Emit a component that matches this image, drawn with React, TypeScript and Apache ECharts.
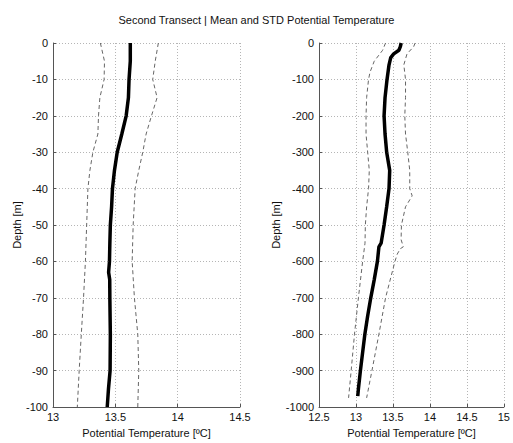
import React, { useEffect, useRef } from "react";
import * as echarts from "echarts";

// Left panel (upper 100 m)
const leftMeanDepth = [0, -5, -10, -15, -20, -25, -30, -35, -40, -45, -50, -55, -60, -63, -65, -70, -80, -90, -95, -100];
const leftMeanTemp = [13.62, 13.62, 13.61, 13.605, 13.587, 13.552, 13.515, 13.493, 13.477, 13.47, 13.46, 13.456, 13.453, 13.446, 13.455, 13.456, 13.46, 13.458, 13.445, 13.435];
const leftLowDepth = [0, -5, -10, -15, -20, -25, -30, -35, -40, -50, -60, -70, -80, -90, -100];
const leftLowTemp = [13.38, 13.413, 13.41, 13.376, 13.365, 13.36, 13.32, 13.296, 13.28, 13.27, 13.26, 13.245, 13.227, 13.21, 13.195];
const leftHighDepth = [0, -5, -10, -15, -20, -25, -30, -35, -40, -50, -60, -70, -80, -90, -100];
const leftHighTemp = [13.845, 13.82, 13.8, 13.835, 13.79, 13.747, 13.72, 13.688, 13.659, 13.643, 13.635, 13.653, 13.68, 13.688, 13.68];

// Right panel (full 1000 m)
const rightMeanDepth = [0, -10, -20, -30, -40, -60, -100, -150, -200, -250, -300, -350, -400, -450, -500, -550, -560, -600, -650, -700, -750, -800, -850, -900, -950, -970];
const rightMeanTemp = [13.611, 13.6, 13.58, 13.51, 13.47, 13.447, 13.42, 13.393, 13.38, 13.393, 13.415, 13.456, 13.447, 13.415, 13.38, 13.34, 13.31, 13.29, 13.247, 13.2, 13.158, 13.12, 13.09, 13.06, 13.033, 13.024];
const rightLowDepth = [0, -20, -50, -80, -100, -150, -200, -250, -300, -350, -400, -450, -500, -550, -600, -700, -800, -900, -975];
const rightLowTemp = [13.4, 13.36, 13.247, 13.19, 13.17, 13.144, 13.136, 13.136, 13.158, 13.18, 13.17, 13.144, 13.127, 13.122, 13.09, 13.033, 12.98, 12.935, 12.9];
const rightHighDepth = [0, -10, -30, -60, -100, -150, -200, -250, -300, -350, -400, -420, -450, -500, -540, -560, -565, -580, -600, -700, -800, -900, -975];
const rightHighTemp = [13.8, 13.78, 13.69, 13.647, 13.67, 13.67, 13.66, 13.67, 13.7, 13.727, 13.727, 13.76, 13.67, 13.615, 13.61, 13.64, 13.6, 13.558, 13.527, 13.4, 13.31, 13.216, 13.144];

const titleText = "Second Transect | Mean and STD Potential Temperature";
const xName = "Potential Temperature [ºC]";
const yName = "Depth [m]";

const pairs = (t: number[], d: number[]) => t.map((v, i) => [v, d[i]]);

const FONT = "Liberation Sans, Arial, sans-serif";

export default function App() {
  const ref = useRef<HTMLDivElement>(null);
  useEffect(() => {
    if (!ref.current) return;
    const chart = echarts.init(ref.current, undefined, { renderer: "svg" });
    const axisLabel = { color: "#111", fontSize: 11, fontFamily: FONT, formatter: (v: number) => String(v) };
    const splitLine = { show: true, lineStyle: { color: "#b5b5b5", type: [1, 2] as any, width: 1 } };
    const axisLine = { show: true, onZero: false, lineStyle: { color: "#555", width: 1 } };
    const axisTick = { show: true, inside: true, length: 3, lineStyle: { color: "#555" } };
    const nameStyle = { color: "#111", fontSize: 11, fontFamily: FONT };
    const meanStyle = { color: "#000", width: 3.5 };
    const dashStyle = { color: "#666", width: 1, type: [4, 3] as any };
    const mk = (data: number[][], idx: number, style: any) => ({
      type: "line",
      xAxisIndex: idx,
      yAxisIndex: idx,
      data,
      showSymbol: false,
      symbol: "none",
      lineStyle: style,
      silent: true,
    });
    chart.setOption({
      animation: false,
      backgroundColor: "#fff",
      title: {
        text: titleText,
        left: "center",
        top: 9,
        textStyle: { fontSize: 11, fontWeight: "normal", color: "#111", fontFamily: FONT },
      },
      grid: [
        { left: 53, top: 43, width: 187, height: 370 },
        { left: 319, top: 43, width: 188, height: 370 },
      ],
      xAxis: [
        {
          gridIndex: 0, type: "value", min: 13, max: 14.5, interval: 0.5,
          axisLine, axisTick, splitLine, axisLabel: { ...axisLabel, margin: 4 },
          name: xName, nameLocation: "middle", nameGap: 20, nameTextStyle: nameStyle,
        },
        {
          gridIndex: 1, type: "value", min: 12.5, max: 15, interval: 0.5,
          axisLine, axisTick, splitLine, axisLabel: { ...axisLabel, margin: 4 },
          name: xName, nameLocation: "middle", nameGap: 20, nameTextStyle: nameStyle,
        },
      ],
      yAxis: [
        {
          gridIndex: 0, type: "value", min: -100, max: 0, interval: 10,
          axisLine, axisTick, splitLine, axisLabel: { ...axisLabel, margin: 5 },
          name: yName, nameLocation: "middle", nameGap: 30, nameTextStyle: nameStyle,
        },
        {
          gridIndex: 1, type: "value", min: -1000, max: 0, interval: 100,
          axisLine, axisTick, splitLine, axisLabel: { ...axisLabel, margin: 5 },
          name: yName, nameLocation: "middle", nameGap: 36, nameTextStyle: nameStyle,
        },
      ],
      series: [
        mk(pairs(leftLowTemp, leftLowDepth), 0, dashStyle),
        mk(pairs(leftHighTemp, leftHighDepth), 0, dashStyle),
        mk(pairs(leftMeanTemp, leftMeanDepth), 0, meanStyle),
        mk(pairs(rightLowTemp, rightLowDepth), 1, dashStyle),
        mk(pairs(rightHighTemp, rightHighDepth), 1, dashStyle),
        mk(pairs(rightMeanTemp, rightMeanDepth), 1, meanStyle),
      ],
    });
    return () => chart.dispose();
  }, []);
  return <div ref={ref} style={{ width: 513, height: 443, position: "absolute", left: 0, top: 0 }} />;
}
